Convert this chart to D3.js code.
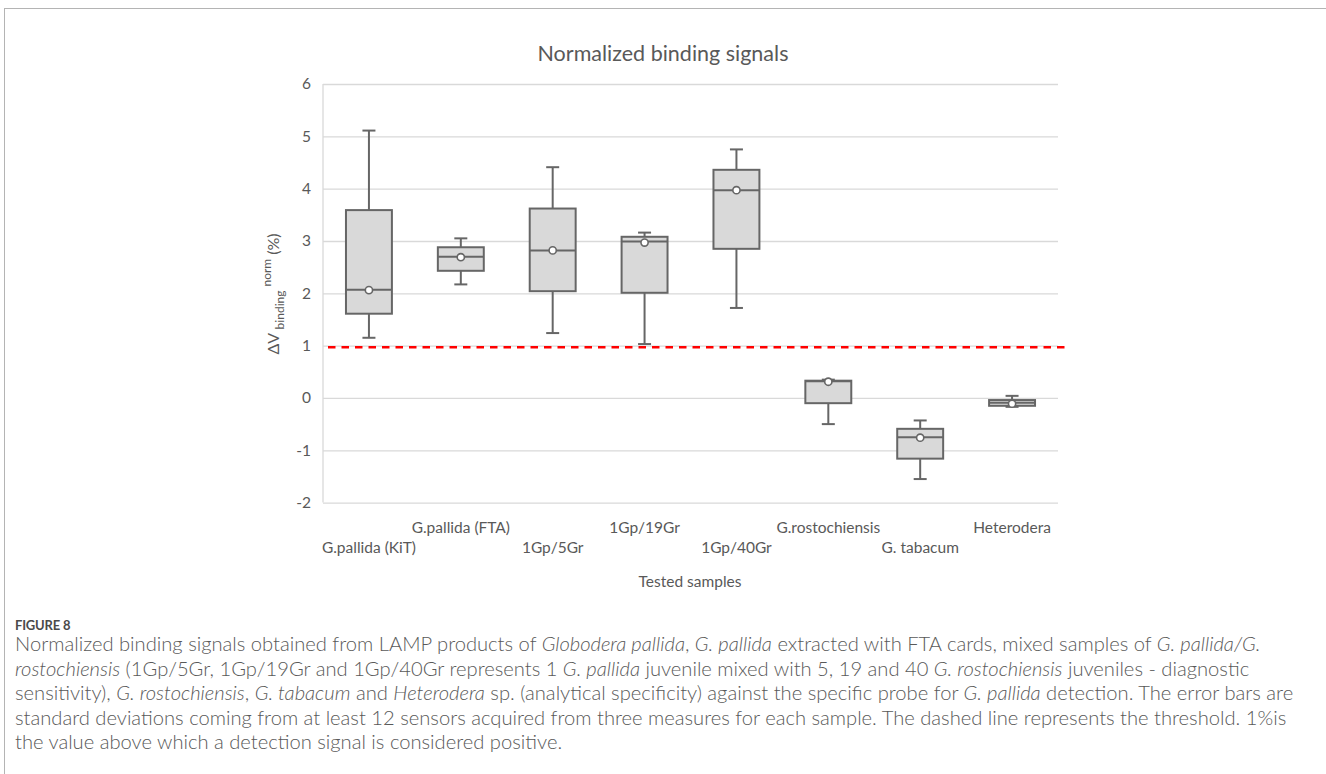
<!DOCTYPE html>
<html>
<head>
<meta charset="utf-8">
<script src="https://cdn.jsdelivr.net/npm/d3@7"></script>
<style>
  html, body { margin: 0; padding: 0; background: #fff; }
  svg { display: block; }
</style>
</head>
<body>
<svg id="fig" width="1326" height="774"></svg>
<script>
// Sample groups on the horizontal axis
const categories = ["G.pallida (KiT)", "G.pallida (FTA)", "1Gp/5Gr", "1Gp/19Gr",
                    "1Gp/40Gr", "G.rostochiensis", "G. tabacum", "Heterodera"];
// Box-plot statistics of ΔV binding norm (%) per group
const whiskerLow  = [1.15, 2.17, 1.24, 1.03, 1.72, -0.50, -1.55, -0.17];
const q1          = [1.61, 2.43, 2.04, 2.01, 2.85, -0.10, -1.16, -0.15];
const median      = [2.07, 2.70, 2.82, 2.99, 3.97,  0.32, -0.75, -0.09];
const q3          = [3.59, 2.88, 3.62, 3.08, 4.36,  0.33, -0.59, -0.04];
const whiskerHigh = [5.11, 3.05, 4.41, 3.16, 4.75,  0.35, -0.43,  0.04];
const mean        = [2.06, 2.69, 2.82, 2.97, 3.97,  0.31, -0.76, -0.11];
// Detection threshold
const threshold = 0.97;
// Axis ticks
const yTicks = [-2, -1, 0, 1, 2, 3, 4, 5, 6];

const svg = d3.select("#fig");
const FONT = "Lato, 'Open Sans', sans-serif";
const GREY_TXT = "#595959";

// Figure frame
svg.append("rect")
  .attr("x", 4.5).attr("y", 8.5).attr("width", 1400).attr("height", 900)
  .attr("fill", "none").attr("stroke", "#b4b4b4").attr("stroke-width", 1);

const plot = { left: 323, right: 1058, top: 84, bottom: 502.6 };

const x = d3.scaleBand().domain(categories).range([plot.left, plot.right]).paddingInner(0).paddingOuter(0);
const y = d3.scaleLinear().domain([-2, 6]).range([plot.bottom, plot.top]);

// Gridlines and value labels
const yAxis = d3.axisLeft(y).tickValues(yTicks).tickSize(-(plot.right - plot.left)).tickPadding(12).tickFormat(d => String(d));
const gy = svg.append("g").attr("transform", `translate(${plot.left},0)`).call(yAxis);
gy.select(".domain").remove();
gy.selectAll(".tick line").attr("stroke", "#d9d9d9").attr("stroke-width", 1.3);
gy.selectAll(".tick text").attr("fill", GREY_TXT).style("font-family", FONT).style("font-size", "15.5px");

// Vertical axis line
svg.append("line")
  .attr("x1", plot.left).attr("x2", plot.left)
  .attr("y1", y(6)).attr("y2", y(-2))
  .attr("stroke", "#d9d9d9").attr("stroke-width", 1.3);

// Category labels, staggered on two rows
const xAxis = d3.axisBottom(x).tickSize(0).tickPadding(0);
const gx = svg.append("g").attr("transform", `translate(0,${plot.bottom})`).call(xAxis);
gx.select(".domain").remove();
gx.selectAll(".tick text")
  .attr("fill", GREY_TXT).style("font-family", FONT).style("font-size", "15.5px")
  .attr("dy", null)
  .attr("y", (d, i) => i % 2 === 0 ? 50.5 : 30);

// Threshold
svg.append("line")
  .attr("x1", plot.left + 5).attr("x2", plot.right + 7)
  .attr("y1", y(threshold)).attr("y2", y(threshold))
  .attr("stroke", "#ff0000").attr("stroke-width", 2.6)
  .attr("stroke-dasharray", "7.5,6");

// Boxes
const boxW = x.bandwidth() * 0.5;
const stroke = "#666666";
const boxes = svg.append("g").selectAll("g").data(categories).join("g")
  .attr("transform", d => `translate(${x(d) + x.bandwidth() / 2},0)`);

boxes.append("line")
  .attr("y1", (d, i) => y(whiskerHigh[i])).attr("y2", (d, i) => y(q3[i]))
  .attr("stroke", stroke).attr("stroke-width", 2);
boxes.append("line")
  .attr("y1", (d, i) => y(q1[i])).attr("y2", (d, i) => y(whiskerLow[i]))
  .attr("stroke", stroke).attr("stroke-width", 2);
boxes.append("line")
  .attr("x1", -6.5).attr("x2", 6.5)
  .attr("y1", (d, i) => y(whiskerHigh[i])).attr("y2", (d, i) => y(whiskerHigh[i]))
  .attr("stroke", stroke).attr("stroke-width", 2);
boxes.append("line")
  .attr("x1", -6.5).attr("x2", 6.5)
  .attr("y1", (d, i) => y(whiskerLow[i])).attr("y2", (d, i) => y(whiskerLow[i]))
  .attr("stroke", stroke).attr("stroke-width", 2);
boxes.append("rect")
  .attr("x", -boxW / 2).attr("width", boxW)
  .attr("y", (d, i) => y(q3[i]))
  .attr("height", (d, i) => y(q1[i]) - y(q3[i]))
  .attr("fill", "#d9d9d9").attr("stroke", stroke).attr("stroke-width", 2);
boxes.append("line")
  .attr("x1", -boxW / 2).attr("x2", boxW / 2)
  .attr("y1", (d, i) => y(median[i])).attr("y2", (d, i) => y(median[i]))
  .attr("stroke", stroke).attr("stroke-width", 2);
boxes.append("circle")
  .attr("cy", (d, i) => y(mean[i])).attr("r", 3.6)
  .attr("fill", "#ffffff").attr("stroke", stroke).attr("stroke-width", 1.6);

// Chart title
svg.append("text")
  .attr("x", 663).attr("y", 60.5).attr("text-anchor", "middle")
  .attr("fill", GREY_TXT).style("font-family", FONT).style("font-size", "21.5px")
  .text("Normalized binding signals");

// Axis titles
svg.append("text")
  .attr("x", 690).attr("y", 587).attr("text-anchor", "middle")
  .attr("fill", GREY_TXT).style("font-family", FONT).style("font-size", "15.5px")
  .text("Tested samples");

const yl = svg.append("text")
  .attr("transform", "translate(279,294) rotate(-90)")
  .attr("text-anchor", "middle")
  .attr("fill", GREY_TXT).style("font-family", FONT).style("font-size", "16px");
yl.append("tspan").text("ΔV ");
yl.append("tspan").attr("dy", 5).style("font-size", "12px").text("binding");
yl.append("tspan").attr("dy", -13).attr("dx", 4).style("font-size", "12px").text("norm");
yl.append("tspan").attr("dy", 8).attr("dx", 4).text("(%)");

// Figure caption
const capX = 15;
svg.append("text")
  .attr("x", capX).attr("y", 630)
  .attr("fill", "#4a4a4a").style("font-family", FONT).style("font-size", "13px")
  .style("font-weight", "700").style("letter-spacing", "-0.2px")
  .text("FIGURE 8");

const captionLines = [
  [["Normalized binding signals obtained from LAMP products of ", false], ["Globodera pallida", true], [", ", false], ["G. pallida", true], [" extracted with FTA cards, mixed samples of ", false], ["G. pallida/G.", true]],
  [["rostochiensis", true], [" (1Gp/5Gr, 1Gp/19Gr and 1Gp/40Gr represents 1 ", false], ["G. pallida", true], [" juvenile mixed with 5, 19 and 40 ", false], ["G. rostochiensis", true], [" juveniles - diagnostic", false]],
  [["sensitivity), ", false], ["G. rostochiensis", true], [", ", false], ["G. tabacum", true], [" and ", false], ["Heterodera", true], [" sp. (analytical specificity) against the specific probe for ", false], ["G. pallida", true], [" detection. The error bars are", false]],
  [["standard deviations coming from at least 12 sensors acquired from three measures for each sample. The dashed line represents the threshold. 1%is", false]],
  [["the value above which a detection signal is considered positive.", false]]
];

const cap = svg.append("g").attr("fill", "#595959").style("font-family", FONT).style("font-weight", "300");
const lineEls = captionLines.map((parts, li) => {
  const t = cap.append("text").attr("x", capX).attr("y", 651 + li * 24.6).style("font-size", "16px");
  parts.forEach(([s, it]) => t.append("tspan").style("font-style", it ? "italic" : "normal").text(s));
  return t;
});
// Size the caption so its widest line spans the figure width
const w3 = lineEls[2].node().getComputedTextLength();
const fs = 16 * (1294 - capX) / w3;
lineEls.forEach(t => t.style("font-size", fs.toFixed(2) + "px"));
</script>
</body>
</html>
